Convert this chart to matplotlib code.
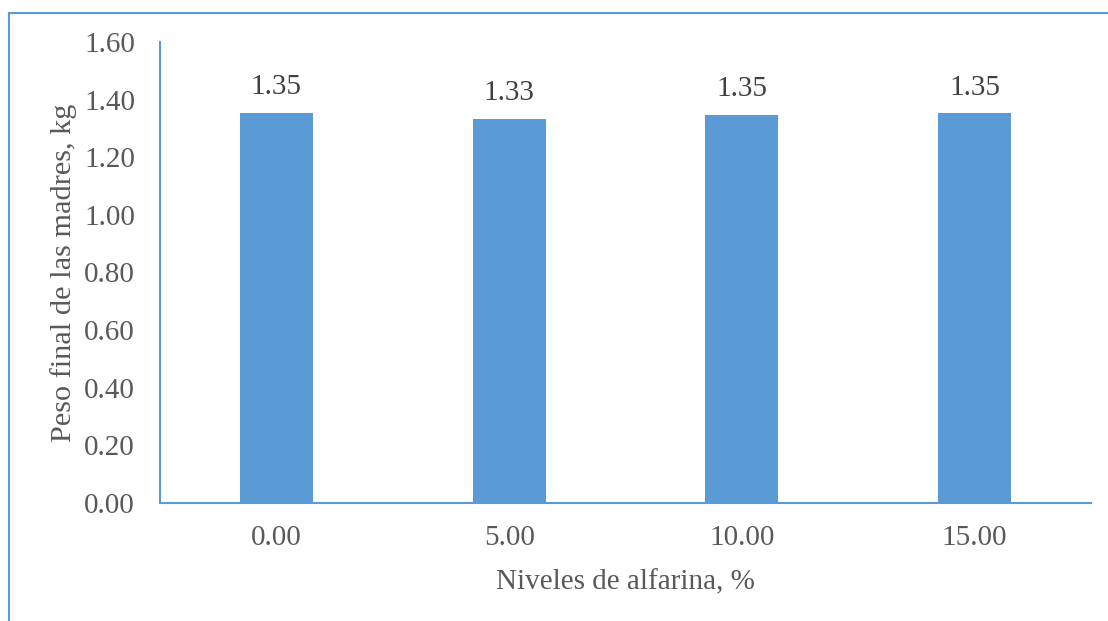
import matplotlib
matplotlib.use("Agg")
import matplotlib.pyplot as plt
from matplotlib.lines import Line2D

categories = ["0.00", "5.00", "10.00", "15.00"]
values = [1.354, 1.333, 1.348, 1.353]
yticks = [0.0, 0.2, 0.4, 0.6, 0.8, 1.0, 1.2, 1.4, 1.6]

bar_color = "#5B9BD5"
text_color = "#595959"
plt.rcParams['font.family'] = ['Liberation Serif', 'DejaVu Serif']

fig = plt.figure(figsize=(11.08, 6.21), dpi=100)
W, H = 1108, 621
ax = fig.add_axes([160 / W, 1 - 503 / H, (1091 - 160) / W, (503 - 42) / H])

x = list(range(len(categories)))
bars = ax.bar(x, values, width=0.313, color=bar_color, zorder=2)
for xi, v in zip(x, values):
    ax.annotate(f"{v:.2f}", (xi, v), xytext=(0, 9), textcoords="offset points",
                ha="center", va="bottom", fontsize=21, color="#404040")

ax.set_xlim(-0.5, 3.5)
ax.set_ylim(0, 1.6)
ax.set_yticks(yticks)
ax.set_yticklabels([f"{t:.2f}" for t in yticks])
ax.set_xticks(x)
ax.set_xticklabels(categories)
ax.tick_params(axis='both', length=0, labelsize=21, labelcolor=text_color)
ax.tick_params(axis='y', pad=18)
ax.tick_params(axis='x', pad=16)
for s in ["top", "right"]:
    ax.spines[s].set_visible(False)
for s in ["left", "bottom"]:
    ax.spines[s].set_color(bar_color)
    ax.spines[s].set_linewidth(1.5)

ax.set_xlabel("Niveles de alfarina, %", fontsize=21, color=text_color, labelpad=13)
ax.set_ylabel("Peso final de las madres, kg", fontsize=21.8, color=text_color, labelpad=5)

# outer border lines (left and top)
fig.add_artist(Line2D([8.5 / W, 8.5 / W], [0, 1 - 12.5 / H], transform=fig.transFigure,
                      color=bar_color, lw=1.5))
fig.add_artist(Line2D([8.5 / W, 1], [1 - 12.5 / H, 1 - 12.5 / H], transform=fig.transFigure,
                      color=bar_color, lw=1.5))

fig.savefig("out.png", dpi=100)
